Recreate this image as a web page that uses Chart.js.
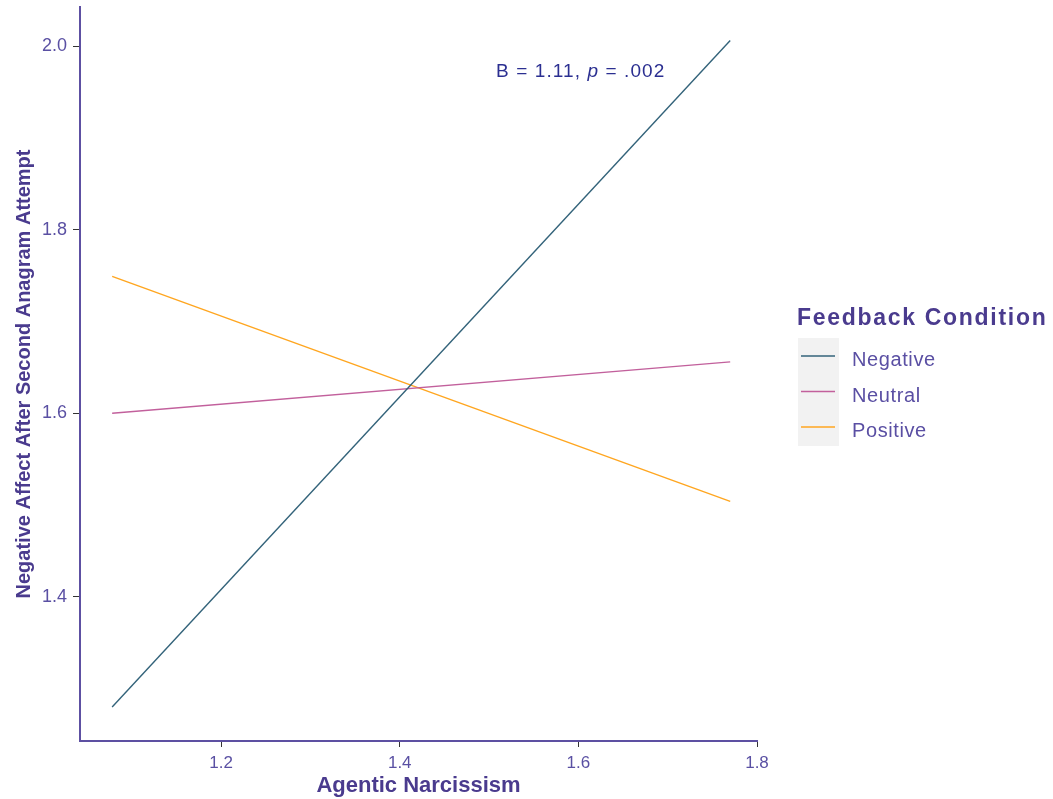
<!DOCTYPE html>
<html>
<head>
<meta charset="utf-8">
<script src="https://cdn.jsdelivr.net/npm/chart.js@4/dist/chart.umd.min.js"></script>
<style>
  html, body { margin: 0; padding: 0; background: #ffffff; }
  #wrap { width: 1053px; height: 799px; position: relative; }
</style>
</head>
<body>
<div id="wrap"><canvas id="c" width="1053" height="799"></canvas></div>
<script>
// ---- data ----
const seriesNames = ["Negative", "Neutral", "Positive"];
const xEnds = [1.078, 1.770];
const negativeValues = [1.280, 2.006];
const neutralValues = [1.600, 1.656];
const positiveValues = [1.749, 1.504];
const xTickValues = [1.2, 1.4, 1.6, 1.8];
const yTickValues = [1.4, 1.6, 1.8, 2.0];
const xTitle = "Agentic Narcissism";
const yTitle = "Negative Affect After Second Anagram Attempt";
const legendTitle = "Feedback Condition";
const annotationParts = ["B = 1.11, ", "p", " = .002"];

const seriesColors = ["#33637a", "#c2609c", "#ffa620"];
const valuesBySeries = [negativeValues, neutralValues, positiveValues];

const datasets = seriesNames.map((name, i) => ({
  label: name,
  data: xEnds.map((x, j) => ({ x: x, y: valuesBySeries[i][j] })),
  borderColor: seriesColors[i],
  backgroundColor: seriesColors[i],
  borderWidth: 1.4,
  pointRadius: 0,
  tension: 0,
  fill: false
}));

const FONT = "'Liberation Sans', Arial, sans-serif";
const tickColor = "#5a50a3";
const titleColor = "#4a3b8e";
const axisColor = "#5d50a2";

const legendPlugin = {
  id: 'customLegend',
  afterDraw(chart) {
    const ctx = chart.ctx;
    ctx.save();
    ctx.fillStyle = titleColor;
    ctx.font = "bold 23px " + FONT;
    ctx.textBaseline = 'alphabetic';
    ctx.textAlign = 'left';
    try { ctx.letterSpacing = '1.7px'; } catch (e) {}
    ctx.fillText(legendTitle, 797, 325);
    try { ctx.letterSpacing = '0px'; } catch (e) {}
    ctx.fillStyle = "#f2f2f2";
    ctx.fillRect(798, 338, 41, 108);
    const keyY = [356, 391.5, 427];
    const textY = [366, 401.5, 437];
    seriesNames.forEach((name, i) => {
      ctx.strokeStyle = seriesColors[i];
      ctx.lineWidth = 1.6;
      ctx.beginPath();
      ctx.moveTo(801, keyY[i]);
      ctx.lineTo(835, keyY[i]);
      ctx.stroke();
      ctx.fillStyle = "#5a4fa3";
      ctx.font = "20px " + FONT;
      try { ctx.letterSpacing = '0.6px'; } catch (e) {}
      ctx.fillText(name, 852, textY[i]);
      try { ctx.letterSpacing = '0px'; } catch (e) {}
    });
    ctx.fillStyle = "#2b2f91";
    let x = 496;
    const y = 77;
    try { ctx.letterSpacing = '1.1px'; } catch (e) {}
    annotationParts.forEach((part, i) => {
      ctx.font = (i === 1 ? "italic " : "") + "19px " + FONT;
      ctx.fillText(part, x, y);
      x += ctx.measureText(part).width;
    });
    try { ctx.letterSpacing = '0px'; } catch (e) {}
    ctx.restore();
  }
};

new Chart(document.getElementById('c'), {
  type: 'line',
  data: { datasets: datasets },
  options: {
    responsive: false,
    animation: false,
    devicePixelRatio: 1,
    layout: { padding: { left: 0, top: 7, right: 296, bottom: 0 } },
    plugins: { legend: { display: false }, tooltip: { enabled: false } },
    scales: {
      x: {
        type: 'linear',
        min: 1.042,
        max: 1.8,
        afterBuildTicks: (s) => { s.ticks = xTickValues.map(v => ({ value: v })); },
        afterFit: (s) => { s.height = 58; s.paddingLeft = 0; s.paddingRight = 0; },
        ticks: {
          color: tickColor,
          font: { family: FONT, size: 17 },
          padding: 6,
          maxRotation: 0,
          callback: (v) => v.toFixed(1)
        },
        grid: { display: true, drawOnChartArea: false, drawTicks: true, tickLength: 6, color: "#333333", lineWidth: 1 },
        border: { display: true, color: axisColor, width: 2 },
        title: {
          display: true,
          text: xTitle,
          color: titleColor,
          font: { family: FONT, size: 22, weight: 'bold' },
          padding: { top: 0, bottom: 0 }
        }
      },
      y: {
        type: 'linear',
        min: 1.243,
        max: 2.0425,
        afterBuildTicks: (s) => { s.ticks = yTickValues.map(v => ({ value: v })); },
        afterFit: (s) => { s.width = 80; s.paddingTop = 0; s.paddingBottom = 0; },
        ticks: {
          color: tickColor,
          font: { family: FONT, size: 18 },
          padding: 6,
          callback: (v) => v.toFixed(1)
        },
        grid: { display: true, drawOnChartArea: false, drawTicks: true, tickLength: 7, color: "#333333", lineWidth: 1 },
        border: { display: true, color: axisColor, width: 2 },
        title: {
          display: true,
          text: yTitle,
          color: titleColor,
          font: { family: FONT, size: 20, weight: 'bold' },
          padding: { top: 12, bottom: 0 }
        }
      }
    }
  },
  plugins: [legendPlugin]
});
</script>
</body>
</html>
